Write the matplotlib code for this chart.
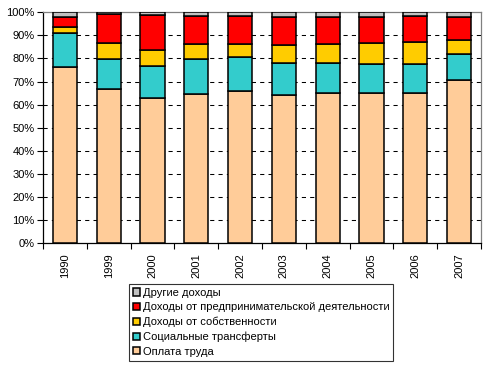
import matplotlib
matplotlib.use("Agg")

import numpy as np
import matplotlib.pyplot as plt
from matplotlib.ticker import FixedLocator, PercentFormatter

plt.rcParams['font.family'] = ['Liberation Sans', 'DejaVu Sans']

# Data (shares of money income, %)
years = ['1990', '1999', '2000', '2001', '2002', '2003', '2004', '2005', '2006', '2007']
wages = [76.4, 66.9, 63.1, 64.6, 65.9, 64.1, 65.1, 65.1, 65.1, 70.7]
social = [14.7, 13.0, 13.7, 15.1, 14.9, 14.1, 13.1, 12.7, 12.3, 11.1]
prop = [2.7, 6.8, 6.9, 6.4, 5.5, 7.8, 8.1, 9.1, 9.7, 6.4]
business = [4.0, 12.4, 15.1, 12.3, 12.1, 12.1, 11.8, 11.2, 11.5, 9.9]
other = [2.2, 0.9, 1.2, 1.6, 1.6, 1.9, 1.9, 1.9, 1.4, 1.9]

series = [
    ('Оплата труда', wages, '#FFCC99'),
    ('Социальные трансферты', social, '#33CCCC'),
    ('Доходы от собственности', prop, '#FFCC00'),
    ('Доходы от предпринимательской деятельности', business, '#FF0000'),
    ('Другие доходы', other, '#C0C0C0'),
]

fig = plt.figure(figsize=(4.93, 3.70), dpi=100)
ax = fig.add_axes([0.0872, 0.3424, 0.8885, 0.6244])

x = np.arange(len(years))
bottom = np.zeros(len(years))
handles = []
for name, vals, color in series:
    vals = np.array(vals)
    bars = ax.bar(x, vals, 0.555, bottom=bottom, color=color,
                  edgecolor='black', linewidth=1.1, label=name, zorder=3)
    handles.append(bars)
    bottom += vals

ax.set_xlim(-0.5, len(years) - 0.5)
ax.set_ylim(0, 100)

# dashed gridlines
for v in range(10, 100, 10):
    ax.axhline(v, color='black', linewidth=0.75, linestyle=(0, (4, 4)), zorder=1)

ax.yaxis.set_major_locator(FixedLocator(range(0, 101, 10)))
ax.yaxis.set_major_formatter(PercentFormatter(decimals=0))
ax.tick_params(axis='y', direction='out', length=4, width=0.8, labelsize=8, pad=2)

ax.set_xticks(x)
ax.set_xticklabels(years, rotation=90, fontsize=8)
ax.tick_params(axis='x', which='major', length=0, pad=7)
ax.xaxis.set_minor_locator(FixedLocator(np.arange(-0.5, len(years), 1.0)))
ax.tick_params(axis='x', which='minor', direction='out', length=4, width=0.8)

ax.spines['left'].set_color('black')
ax.spines['bottom'].set_color('black')
ax.spines['top'].set_color('#808080')
ax.spines['right'].set_color('#808080')
for s in ax.spines.values():
    s.set_linewidth(0.9)

leg = fig.legend(handles[::-1], [s[0] for s in series][::-1],
                 loc='upper left', bbox_to_anchor=(0.2617, 0.2324),
                 frameon=True, fancybox=False, edgecolor='black',
                 fontsize=8, handlelength=0.6, handleheight=0.6,
                 handletextpad=0.3, labelspacing=0.4, borderpad=0.35,
                 borderaxespad=0)
leg.get_frame().set_linewidth(0.8)

fig.savefig('out.png', dpi=100)
